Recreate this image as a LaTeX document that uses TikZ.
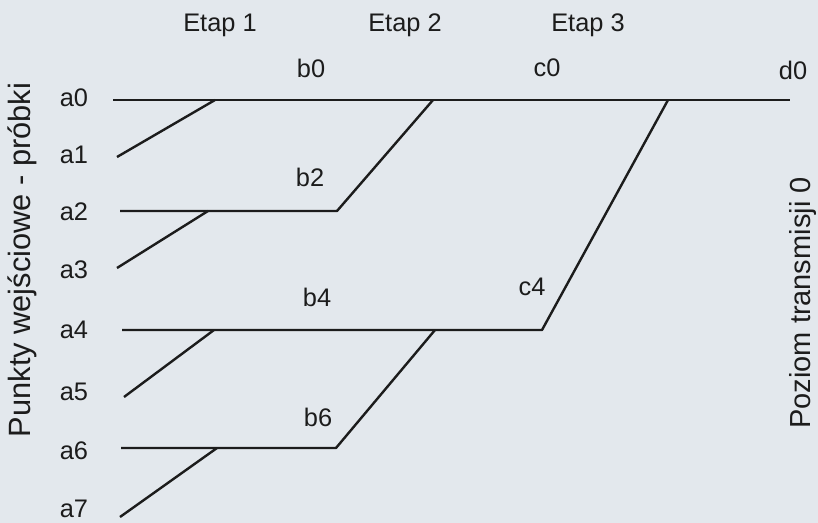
\documentclass[tikz,border=0pt]{standalone}
\usepackage{fontspec}
\setmainfont{Liberation Sans}
\definecolor{scanbg}{HTML}{E3E8ED}
\definecolor{ink}{HTML}{1C1C1C}
\usetikzlibrary{positioning}

\begin{document}
\begin{tikzpicture}[x=0.5pt,y=-0.5pt,
  wire/.style={ink,line width=1.2pt,line join=round},
  lbl/.style={ink,font=\fontsize{12.7}{14}\selectfont,inner sep=0pt},
  side/.style={ink,font=\fontsize{14.5}{16}\selectfont,rotate=90,inner sep=0pt}]
  \fill[scanbg] (0,0) rectangle (818,523);
  \useasboundingbox (0,0) rectangle (818,523);
  % stage headers
  \node[lbl] (etap1) at (220,25) {Etap 1};
  \node[lbl] (etap2) at (405,25) {Etap 2};
  \node[lbl] (etap3) at (588,25) {Etap 3};
  % side captions
  \node[side,font=\fontsize{15.4}{17}\selectfont] (inputs) at (22,260) {Punkty wejściowe - próbki};
  \node[side] (level) at (803,303) {Poziom transmisji 0};
  % input samples
  \foreach \i/\y in {0/98,1/155,2/212,3/270,4/330,5/392,6/451,7/509}
    \node[lbl] (a\i) at (74,\y) {a\i};
  % result labels
  \node[lbl] (b0) at (311,68) {b0};
  \node[lbl] (b2) at (310,177) {b2};
  \node[lbl] (b4) at (317,297) {b4};
  \node[lbl] (b6) at (318,417) {b6};
  \node[lbl] (c0) at (547,68) {c0};
  \node[lbl] (c4) at (532,287) {c4};
  \node[lbl] (d0) at (793,70) {d0};
  % line ends and joints
  \coordinate (in0) at (113,100);
  \coordinate (in1) at (117,157);
  \coordinate (in2) at (120,211);
  \coordinate (in3) at (117,268);
  \coordinate (in4) at (122,330);
  \coordinate (in5) at (124,397);
  \coordinate (in6) at (121,448);
  \coordinate (in7) at (120,517);
  \coordinate (j1) at (215,100);
  \coordinate (j3) at (208,211);
  \coordinate (j5) at (214,330);
  \coordinate (j7) at (217,448);
  \coordinate (k2) at (337,211);
  \coordinate (k2top) at (433,100);
  \coordinate (k6) at (336,448);
  \coordinate (k6top) at (435,330);
  \coordinate (m4) at (542,330);
  \coordinate (m4top) at (668,100);
  \coordinate (out) at (790,100);
  % stage 1
  \draw[wire] (in0) -- (out);
  \draw[wire] (in1) -- (j1);
  \draw[wire] (in3) -- (j3);
  \draw[wire] (in5) -- (j5);
  \draw[wire] (in7) -- (j7);
  % stage 2
  \draw[wire] (in2) -- (k2) -- (k2top);
  \draw[wire] (in6) -- (k6) -- (k6top);
  % stage 3
  \draw[wire] (in4) -- (m4) -- (m4top);
\end{tikzpicture}
\end{document}
